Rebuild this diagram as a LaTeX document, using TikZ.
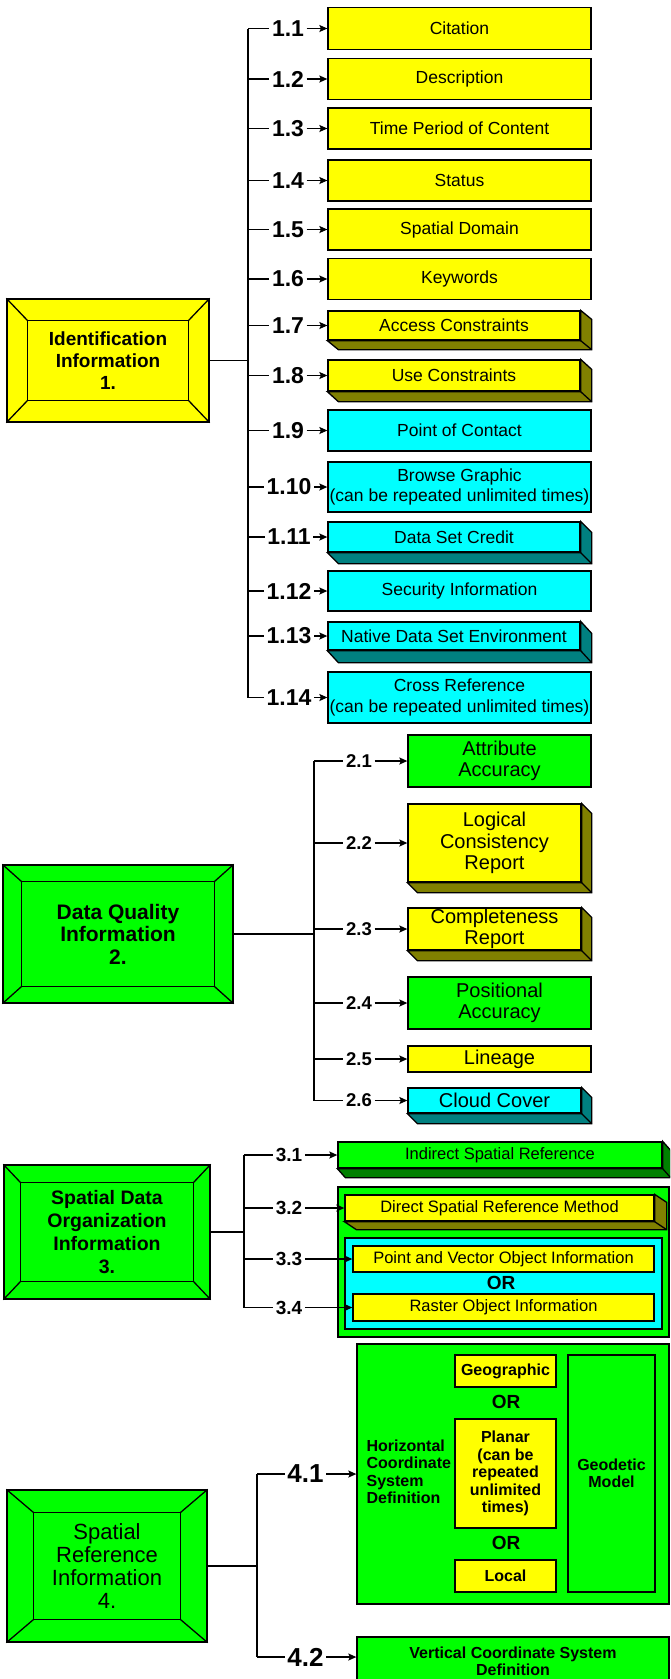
\documentclass[tikz,border=0pt]{standalone}
\usepackage{fontspec}
\setmainfont{Liberation Sans}
\usetikzlibrary{shapes,arrows.meta}
\definecolor{yel}{RGB}{255,255,0}
\definecolor{cya}{RGB}{0,255,255}
\definecolor{grn}{RGB}{0,255,0}
\definecolor{dyel}{RGB}{128,128,0}
\definecolor{dcya}{RGB}{0,128,128}
\definecolor{dgrn}{RGB}{0,128,0}

% 3D look under a box: node, dark colour, depth x, depth y
\newcommand{\extrudebox}[4]{
  \draw[fill=#2] (#1.north east) -- ++(#3,#4) -- ([shift={(#3,#4)}]#1.south east)
    -- ([shift={(#3,#4)}]#1.south west) -- (#1.south west) -- (#1.south east) -- cycle;
  \draw (#1.south east) -- ++(#3,#4);
}
% bevelled frame round a main box: node, bevel x, bevel y
\newcommand{\bevelframe}[3]{
  \draw ([shift={(#2,#3)}]#1.north west) rectangle ([shift={(-#2,-#3)}]#1.south east);
  \draw (#1.north west) -- ++(#2,#3) (#1.north east) -- ++(-#2,#3)
        (#1.south west) -- ++(#2,-#3) (#1.south east) -- ++(-#2,-#3);
}

\begin{document}
\begin{tikzpicture}[x=1pt, y=-1pt, >={Stealth[length=8pt,width=7pt,inset=1.5pt]}, line width=1.3pt]
        \tikzstyle{box}=[draw=black, rectangle, inner sep=0pt, align=center]
        \tikzstyle{frame}=[draw=black, rectangle, inner sep=0pt, align=center]
        \tikzstyle{abox}=[box, minimum width=263pt, font=\fontsize{17.5}{20.5}\selectfont]
        \tikzstyle{adeep}=[box, minimum width=252pt, font=\fontsize{17.5}{20.5}\selectfont]
        \tikzstyle{bbox}=[box, minimum width=183pt, font=\fontsize{20}{21.5}\selectfont]
        \tikzstyle{bdeep}=[box, minimum width=173pt, font=\fontsize{20}{21.5}\selectfont]
        \tikzstyle{cbox}=[box, font=\fontsize{16.5}{19}\selectfont]
        \tikzstyle{dbox}=[box, font=\bfseries\fontsize{16}{17.5}\selectfont]
        \tikzstyle{numa}=[inner sep=2pt, font=\bfseries\fontsize{23}{23}\selectfont]
        \tikzstyle{numb}=[inner sep=2pt, font=\bfseries\fontsize{18.5}{18.5}\selectfont]
        \tikzstyle{numc}=[inner sep=2pt, font=\bfseries\fontsize{19}{19}\selectfont]
        \tikzstyle{numd}=[inner sep=2pt, font=\bfseries\fontsize{26}{26}\selectfont]
        \tikzstyle{ortxt}=[inner sep=0pt, font=\bfseries\fontsize{19}{19}\selectfont]
        \useasboundingbox (0,0) rectangle (670,1679);
        \clip (0,0) rectangle (670,1679);
        \fill[white] (0,0) rectangle (670,1679);

        % 1. Identification Information
        \coordinate (s1) at (248,0);
        \node[frame, fill=yel, minimum width=202pt, minimum height=123pt,
              font=\bfseries\fontsize{19}{22}\selectfont] (f1) at (108,360.5) {Identification\\Information\\1.};
        \bevelframe{f1}{21}{22}
        \node[abox, fill=yel, minimum height=42pt] (b1)  at (459.5,28.5) {Citation};
        \node[abox, fill=yel, minimum height=41pt] (b2)  at (459.5,79)   {Description};
        \node[abox, fill=yel, minimum height=41pt] (b3)  at (459.5,128.5) {Time Period of Content};
        \node[abox, fill=yel, minimum height=41pt] (b4)  at (459.5,180.5) {Status};
        \node[abox, fill=yel, minimum height=41pt] (b5)  at (459.5,229.5) {Spatial Domain};
        \node[abox, fill=yel, minimum height=41pt] (b6)  at (459.5,279)   {Keywords};
        \node[adeep, fill=yel, minimum height=29pt] (b7) at (454,325.5) {Access Constraints};
        \extrudebox{b7}{dyel}{11}{9}
        \node[adeep, fill=yel, minimum height=31pt] (b8) at (454,375.5) {Use Constraints};
        \extrudebox{b8}{dyel}{11}{10}
        \node[abox, fill=cya, minimum height=41pt] (b9)  at (459.5,430.5) {Point of Contact};
        \node[abox, fill=cya, minimum height=50pt] (b10) at (459.5,487)   {Browse Graphic\\(can be repeated unlimited times)};
        \node[adeep, fill=cya, minimum height=30pt] (b11) at (454,537) {Data Set Credit};
        \extrudebox{b11}{dcya}{11}{11}
        \node[abox, fill=cya, minimum height=40pt] (b12) at (459.5,591)   {Security Information};
        \node[adeep, fill=cya, minimum height=28pt] (b13) at (454,636) {Native Data Set Environment};
        \extrudebox{b13}{dcya}{11}{12}
        \node[abox, fill=cya, minimum height=51pt] (b14) at (459.5,697.5) {Cross Reference\\(can be repeated unlimited times)};

        \node[numa] (l1)  at (288,28.5)  {1.1};
        \node[numa] (l2)  at (288,79)    {1.2};
        \node[numa] (l3)  at (288,128.5) {1.3};
        \node[numa] (l4)  at (288,180.5) {1.4};
        \node[numa] (l5)  at (288,229.5) {1.5};
        \node[numa] (l6)  at (288,279)   {1.6};
        \node[numa] (l7)  at (288,325.5) {1.7};
        \node[numa] (l8)  at (288,375.5) {1.8};
        \node[numa] (l9)  at (288,430.5) {1.9};
        \node[numa] (l10) at (289,487)   {1.10};
        \node[numa] (l11) at (289,537)   {1.11};
        \node[numa] (l12) at (289,591)   {1.12};
        \node[numa] (l13) at (289,636)   {1.13};
        \node[numa] (l14) at (289,697.5) {1.14};

        \draw (s1 |- l1) -- (s1 |- l14);
        \draw (f1) -- (s1 |- f1);
        \draw (s1 |- l1) -- (l1);   \draw[->] (l1) -- (b1);
        \draw (s1 |- l2) -- (l2);   \draw[->] (l2) -- (b2);
        \draw (s1 |- l3) -- (l3);   \draw[->] (l3) -- (b3);
        \draw (s1 |- l4) -- (l4);   \draw[->] (l4) -- (b4);
        \draw (s1 |- l5) -- (l5);   \draw[->] (l5) -- (b5);
        \draw (s1 |- l6) -- (l6);   \draw[->] (l6) -- (b6);
        \draw (s1 |- l7) -- (l7);   \draw[->] (l7) -- (b7);
        \draw (s1 |- l8) -- (l8);   \draw[->] (l8) -- (b8);
        \draw (s1 |- l9) -- (l9);   \draw[->] (l9) -- (b9);
        \draw (s1 |- l10) -- (l10); \draw[->] (l10) -- (b10);
        \draw (s1 |- l11) -- (l11); \draw[->] (l11) -- (b11);
        \draw (s1 |- l12) -- (l12); \draw[->] (l12) -- (b12);
        \draw (s1 |- l13) -- (l13); \draw[->] (l13) -- (b13);
        \draw (s1 |- l14) -- (l14); \draw[->] (l14) -- (b14);

        % 2. Data Quality Information
        \coordinate (s2) at (314,0);
        \node[frame, fill=grn, minimum width=230pt, minimum height=138pt,
              font=\bfseries\fontsize{21}{22.5}\selectfont] (f2) at (118,934) {Data Quality\\Information\\2.};
        \bevelframe{f2}{19}{17}
        \node[bbox, fill=grn, minimum height=52pt] (b21) at (499.5,761) {Attribute\\Accuracy};
        \node[bdeep, fill=yel, minimum height=78pt] (b22) at (494.5,843) {Logical\\Consistency\\Report};
        \extrudebox{b22}{dyel}{10}{10}
        \node[bdeep, fill=yel, minimum height=42pt] (b23) at (494.5,929) {Completeness\\Report};
        \extrudebox{b23}{dyel}{10}{10}
        \node[bbox, fill=grn, minimum height=52pt] (b24) at (499.5,1003) {Positional\\Accuracy};
        \node[bbox, fill=yel, minimum height=26pt] (b25) at (499.5,1059) {Lineage};
        \node[bdeep, fill=cya, minimum height=25pt] (b26) at (494.5,1100.5) {Cloud Cover};
        \extrudebox{b26}{dcya}{10}{10}

        \node[numb] (l21) at (359,761)    {2.1};
        \node[numb] (l22) at (359,843)    {2.2};
        \node[numb] (l23) at (359,929)    {2.3};
        \node[numb] (l24) at (359,1003)   {2.4};
        \node[numb] (l25) at (359,1059)   {2.5};
        \node[numb] (l26) at (359,1100.5) {2.6};

        \draw (s2 |- l21) -- (s2 |- l26);
        \draw (f2) -- (s2 |- f2);
        \draw (s2 |- l21) -- (l21); \draw[->] (l21) -- (b21);
        \draw (s2 |- l22) -- (l22); \draw[->] (l22) -- (b22);
        \draw (s2 |- l23) -- (l23); \draw[->] (l23) -- (b23);
        \draw (s2 |- l24) -- (l24); \draw[->] (l24) -- (b24);
        \draw (s2 |- l25) -- (l25); \draw[->] (l25) -- (b25);
        \draw (s2 |- l26) -- (l26); \draw[->] (l26) -- (b26);

        % 3. Spatial Data Organization Information
        \coordinate (s3) at (244,0);
        \node[frame, fill=grn, minimum width=206pt, minimum height=134pt,
              font=\bfseries\fontsize{19.5}{23}\selectfont] (f3) at (107,1232) {Spatial Data\\Organization\\Information\\3.};
        \bevelframe{f3}{17}{18}
        \node[cbox, fill=grn, minimum width=324pt, minimum height=26pt] (b31) at (500,1155) {Indirect Spatial Reference};
        \extrudebox{b31}{dgrn}{8}{9}
        \node[box, fill=grn, minimum width=331pt, minimum height=150pt] (c3) at (503.5,1262) {};
        \node[cbox, fill=yel, minimum width=309pt, minimum height=26pt] (b32) at (499.5,1208) {Direct Spatial Reference Method};
        \extrudebox{b32}{dyel}{12}{8}
        \node[box, fill=cya, minimum width=317pt, minimum height=91pt] (c33) at (503.5,1283.5) {};
        \node[cbox, fill=yel, minimum width=301pt, minimum height=26pt] (b33) at (503.5,1259) {Point and Vector Object Information};
        \node[ortxt] (or3) at (501,1283) {OR};
        \node[cbox, fill=yel, minimum width=301pt, minimum height=27pt] (b34) at (503.5,1307.5) {Raster Object Information};

        \node[numc] (l31) at (289,1155)   {3.1};
        \node[numc] (l32) at (289,1208)   {3.2};
        \node[numc] (l33) at (289,1259)   {3.3};
        \node[numc] (l34) at (289,1307.5) {3.4};

        \draw (s3 |- l31) -- (s3 |- l34);
        \draw (f3) -- (s3 |- f3);
        \draw (s3 |- l31) -- (l31); \draw[->] (l31) -- (b31);
        \draw (s3 |- l32) -- (l32); \draw[->] (l32) -- (b32);
        \draw (s3 |- l33) -- (l33); \draw[->] (l33) -- (b33);
        \draw (s3 |- l34) -- (l34); \draw[->] (l34) -- (b34);

        % 4. Spatial Reference Information
        \coordinate (s4) at (257,0);
        \node[frame, fill=grn, minimum width=200pt, minimum height=152pt,
              font=\fontsize{22}{23}\selectfont] (f4) at (107,1566) {Spatial\\Reference\\Information\\4.};
        \bevelframe{f4}{27}{23}
        \node[box, fill=grn, minimum width=312pt, minimum height=260pt] (c4) at (513,1474) {};
        \node[anchor=west, align=left, inner sep=0pt,
              font=\bfseries\fontsize{16}{17.5}\selectfont] (hc) at (366,1472) {Horizontal\\Coordinate\\System\\Definition};
        \node[dbox, fill=yel, minimum width=101pt, minimum height=32pt] (g1) at (505.5,1371) {Geographic};
        \node[ortxt] (or41) at (506,1402) {OR};
        \node[dbox, fill=yel, minimum width=101pt, minimum height=109pt] (p1) at (505.5,1473.5) {Planar\\(can be\\repeated\\unlimited\\times)};
        \node[ortxt] (or42) at (506,1543) {OR};
        \node[dbox, fill=yel, minimum width=101pt, minimum height=32pt] (lc) at (505.5,1576) {Local};
        \node[dbox, fill=grn, minimum width=87pt, minimum height=237pt] (gm) at (611.5,1473.5) {Geodetic\\Model};
        \node[dbox, fill=grn, minimum width=312pt, minimum height=49pt] (b42) at (513,1661.5) {Vertical Coordinate System\\Definition};

        \node[numd] (l41) at (305.5,1474) {4.1};
        \node[numd] (l42) at (305.5,1657) {4.2};

        \draw (s4 |- l41) -- (s4 |- l42);
        \draw (f4) -- (s4 |- f4);
        \draw (s4 |- l41) -- (l41); \draw[->] (l41) -- (c4.west |- l41);
        \draw (s4 |- l42) -- (l42); \draw[->] (l42) -- (b42.west |- l42);
\end{tikzpicture}
\end{document}
